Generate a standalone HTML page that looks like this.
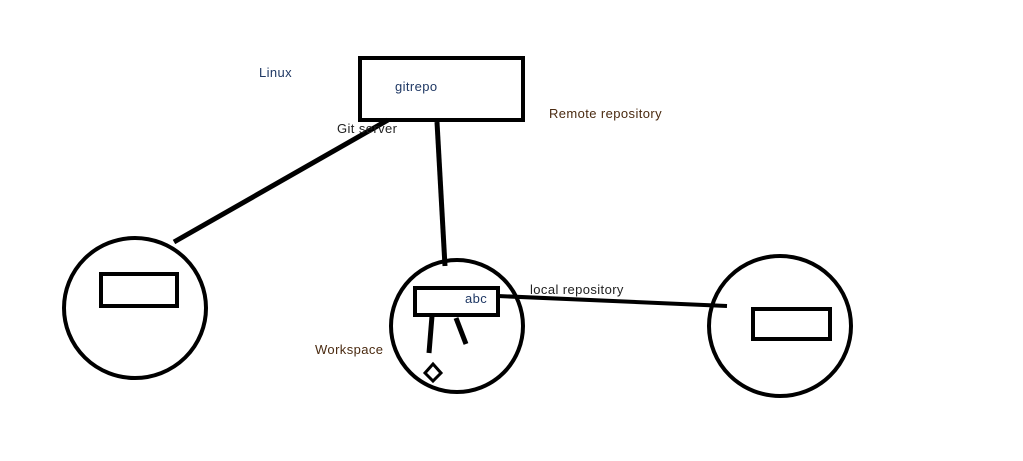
<!DOCTYPE html>
<html><head><style>
html,body{margin:0;padding:0;background:#fff;}
svg{display:block;}
text{font-family:"Liberation Sans",sans-serif;font-size:13px;letter-spacing:0.4px;}
</style></head><body>
<svg width="1023" height="461" viewBox="0 0 1023 461" xmlns="http://www.w3.org/2000/svg">
<g fill="none" stroke="#000" stroke-width="4">
<rect x="360" y="58" width="163" height="62"/>
<line x1="388" y1="120" x2="174" y2="242" stroke-width="5"/>
<line x1="437" y1="122" x2="445" y2="266" stroke-width="5"/>
<ellipse cx="135" cy="308" rx="71" ry="70"/>
<rect x="101" y="274" width="76" height="32"/>
<ellipse cx="457" cy="326" rx="66" ry="66"/>
<rect x="415" y="288" width="83" height="27"/>
<line x1="498" y1="296" x2="727" y2="306"/>
<ellipse cx="780" cy="326" rx="71" ry="70"/>
<rect x="753" y="309" width="77" height="30"/>
<line x1="432" y1="316" x2="429" y2="353" stroke-width="5"/>
<line x1="456" y1="318" x2="466" y2="344" stroke-width="5"/>
<polygon points="433,364 441,373 433,381 425,373" stroke-width="3"/>
</g>
<g>
<text x="259" y="77" fill="#1f3864">Linux</text>
<text x="395" y="91" fill="#1f3864">gitrepo</text>
<text x="549" y="118" fill="#4a2a10">Remote repository</text>
<text x="337" y="133" fill="#222">Git server</text>
<text x="465" y="303" fill="#1f3864">abc</text>
<text x="530" y="294" fill="#222">local repository</text>
<text x="315" y="354" fill="#4a2a10">Workspace</text>
</g>
</svg>
</body></html>
